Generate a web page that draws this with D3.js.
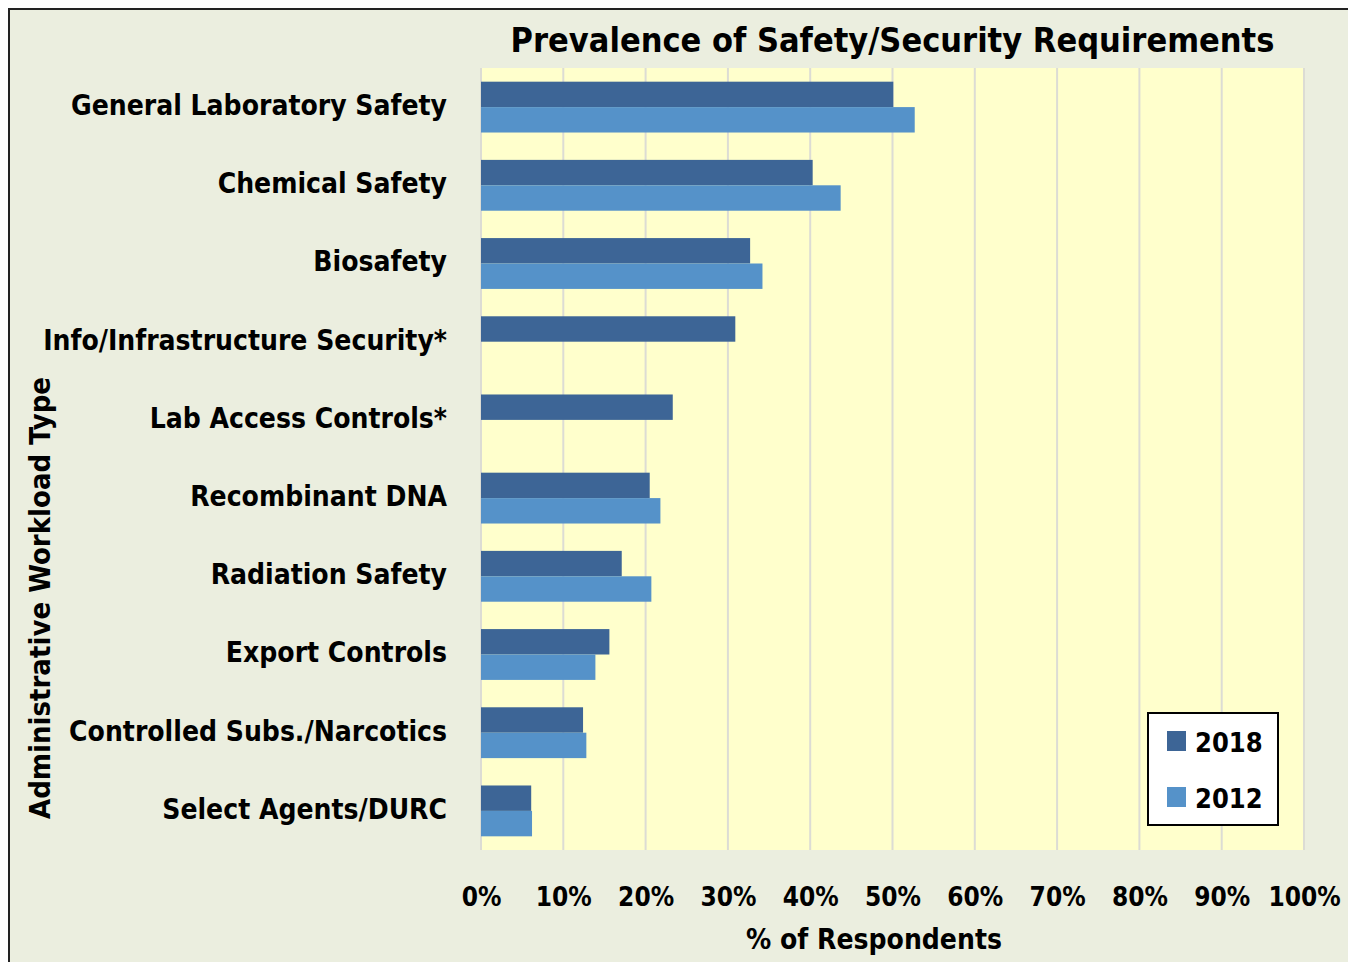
<!DOCTYPE html>
<html><head><meta charset="utf-8">
<script src="https://cdn.jsdelivr.net/npm/d3@7"></script>
<style>
html,body{margin:0;padding:0;background:#fff;}
svg text{font-family:"DejaVu Sans Condensed","DejaVu Sans",sans-serif;font-weight:bold;fill:#000;}
</style></head>
<body>
<svg id="chart" width="1348" height="962"></svg>
<script>
const categories = ["General Laboratory Safety","Chemical Safety","Biosafety","Info/Infrastructure Security*","Lab Access Controls*","Recombinant DNA","Radiation Safety","Export Controls","Controlled Subs./Narcotics","Select Agents/DURC"];
const series = ["2018","2012"];
const values2018 = [50.1,40.3,32.7,30.9,23.3,20.5,17.1,15.6,12.4,6.1];
const values2012 = [52.7,43.7,34.2,null,null,21.8,20.7,13.9,12.8,6.2];
const xTicks = [0,10,20,30,40,50,60,70,80,90,100];
const colors = {"2018":"#3d6596","2012":"#5592c9"};

const svg = d3.select("#chart");
// background + frame
svg.append("rect").attr("x",9).attr("y",9).attr("width",1348).attr("height",962).attr("fill","#ebeedf").attr("stroke","#222").attr("stroke-width",2);

const L=481, R=1304, T=68, B=850;
const x = d3.scaleLinear().domain([0,100]).range([L,R]);
const y = d3.scaleBand().domain(categories).range([T,B]).paddingInner(0.35).paddingOuter(0.175);
const ySub = d3.scaleBand().domain(series).range([0,y.bandwidth()]);

svg.append("rect").attr("x",L).attr("y",T).attr("width",R-L).attr("height",B-T).attr("fill","#ffffcc");

// gridlines
svg.append("g").selectAll("line").data(xTicks).join("line")
  .attr("x1",d=>x(d)).attr("x2",d=>x(d)).attr("y1",T).attr("y2",B)
  .attr("stroke","#dcdcd4").attr("stroke-width",2);

// bars
const data = [];
categories.forEach((c,i)=>{
  data.push({c,s:"2018",v:values2018[i]});
  data.push({c,s:"2012",v:values2012[i]});
});
svg.append("g").selectAll("rect").data(data.filter(d=>d.v!=null)).join("rect")
  .attr("x",x(0)).attr("y",d=>y(d.c)+ySub(d.s))
  .attr("width",d=>x(d.v)-x(0)).attr("height",ySub.bandwidth())
  .attr("fill",d=>colors[d.s]);

// y labels
const yAxis = d3.axisLeft(y).tickSize(0).tickPadding(0);
const yg = svg.append("g").attr("transform",`translate(${L-34},-2)`).call(yAxis);
yg.select(".domain").remove();
yg.selectAll("text").attr("font-size",28).attr("dy","0.35em").style("font-family","'DejaVu Sans Condensed'").style("font-weight","bold").attr("fill","#000");

// x tick labels
const xAxis = d3.axisBottom(x).tickValues(xTicks).tickFormat(d=>d+"%").tickSize(0).tickPadding(0);
const xg = svg.append("g").attr("transform",`translate(0,${B+47})`).call(xAxis);
xg.select(".domain").remove();
xg.selectAll("text").attr("font-size",26).attr("dy","0.35em").style("font-family","'DejaVu Sans Condensed'").style("font-weight","bold").attr("fill","#000");

// title
svg.append("text").attr("x",(L+R)/2).attr("y",52).attr("text-anchor","middle").attr("font-size",34).text("Prevalence of Safety/Security Requirements");
// axis titles
svg.append("text").attr("x",874).attr("y",949).attr("text-anchor","middle").attr("font-size",28).text("% of Respondents");
svg.append("text").attr("transform","translate(50,598) rotate(-90)").attr("text-anchor","middle").attr("font-size",29).text("Administrative Workload Type");

// legend
const lg = svg.append("g");
lg.append("rect").attr("x",1148).attr("y",713).attr("width",130).attr("height",112).attr("fill","#fff").attr("stroke","#000").attr("stroke-width",2);
series.forEach((s,i)=>{
  lg.append("rect").attr("x",1167).attr("y",731+i*56).attr("width",19).attr("height",20).attr("fill",colors[s]);
  lg.append("text").attr("x",1195).attr("y",752+i*56).attr("font-size",27).text(s);
});
</script>
</body></html>
